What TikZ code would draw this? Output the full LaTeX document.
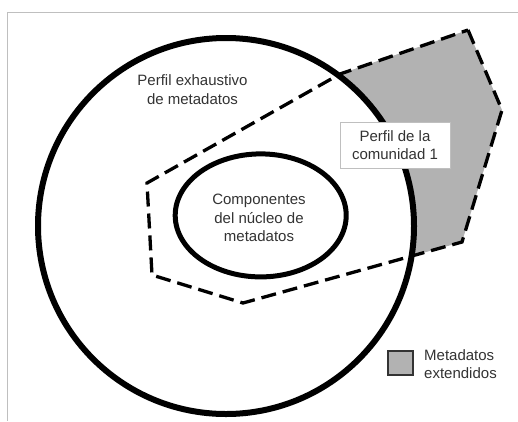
\documentclass[tikz,border=0pt]{standalone}
\usepackage{fontspec}
\setmainfont{Liberation Sans}
\begin{document}
\begin{tikzpicture}[x=1pt,y=-1pt,
  txt/.style={align=center,font=\fontsize{15}{18.5}\selectfont,text=black!80}]
\useasboundingbox (0,0) rectangle (518,421);
\draw[black!25,line width=1pt] (518,12.5) -- (7.5,12.5) -- (7.5,421);

\coordinate (p1) at (468,30);
\coordinate (p2) at (502,110);
\coordinate (p3) at (462,242);
\coordinate (p4) at (243,303);
\coordinate (p5) at (152,275);
\coordinate (p6) at (147,183);
\coordinate (p7) at (340,74);

\fill[black!30] (p1) -- (p2) -- (p3) -- (p4) -- (p5) -- (p6) -- (p7) -- cycle;
\fill[white] (226,226) circle[radius=188pt];
\draw[line width=6pt] (226,226) circle[radius=188pt];
\draw[line width=5pt] (260.7,215.4) ellipse[x radius=85.5pt,y radius=61.5pt];
\draw[line width=3.3pt,dash pattern=on 15pt off 7pt]
  (p1) -- (p2) -- (p3) -- (p4) -- (p5) -- (p6) -- (p7) -- cycle;

\node[txt] (a) at (192.5,89.5) {Perfil exhaustivo\\de metadatos};
\node[txt] (b) at (259,218) {Componentes\\del núcleo de\\metadatos};
\node[txt,draw=black!25,line width=0.8pt,fill=white,minimum width=110pt,minimum height=46pt,inner sep=2pt] (c) at (395,145) {Perfil de la\\comunidad 1};

\draw[line width=2.2pt,draw=black!80,fill=black!30] (388,351) rectangle (413,375);
\node[txt,align=left,anchor=west,inner sep=0pt] (d) at (424,364) {Metadatos\\extendidos};
\end{tikzpicture}
\end{document}
